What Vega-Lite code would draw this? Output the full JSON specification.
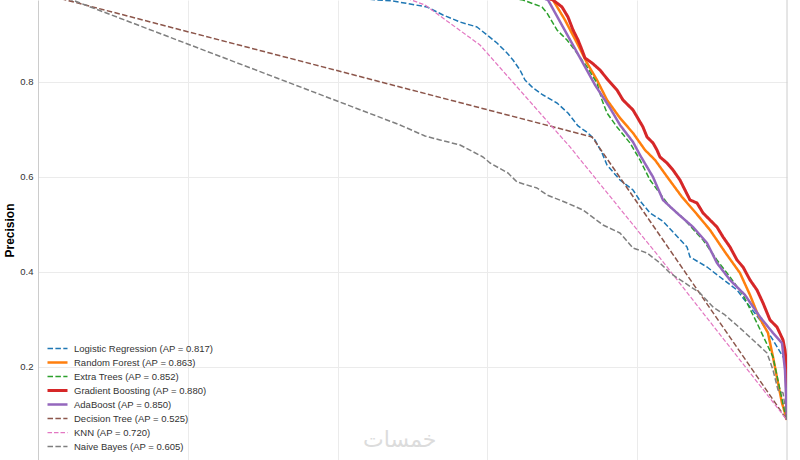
{
  "$schema": "https://vega.github.io/schema/vega-lite/v6.json",
  "autosize": "none",
  "width": 749,
  "height": 460,
  "padding": {"left": 38, "top": 0, "right": 13, "bottom": 0},
  "config": {"font": "Liberation Sans", "view": {"stroke": null}},
  "layer": [
    {
      "data": {"values": [{}]},
      "mark": {"type": "rule", "color": "#cccccc", "strokeWidth": 1},
      "encoding": {"x": {"datum": 1, "type": "quantitative"}}
    },
    {
      "data": {"values": [
        {"model": "Logistic Regression (AP = 0.817)", "recall": 0, "precision": 1.0},
        {"model": "Logistic Regression (AP = 0.817)", "recall": 0.25, "precision": 0.99},
        {"model": "Logistic Regression (AP = 0.817)", "recall": 0.42, "precision": 0.978},
        {"model": "Logistic Regression (AP = 0.817)", "recall": 0.4526, "precision": 0.9726},
        {"model": "Logistic Regression (AP = 0.817)", "recall": 0.474, "precision": 0.9705},
        {"model": "Logistic Regression (AP = 0.817)", "recall": 0.4967, "precision": 0.9642},
        {"model": "Logistic Regression (AP = 0.817)", "recall": 0.5194, "precision": 0.9579},
        {"model": "Logistic Regression (AP = 0.817)", "recall": 0.5407, "precision": 0.9411},
        {"model": "Logistic Regression (AP = 0.817)", "recall": 0.5634, "precision": 0.9263},
        {"model": "Logistic Regression (AP = 0.817)", "recall": 0.5861, "precision": 0.9158},
        {"model": "Logistic Regression (AP = 0.817)", "recall": 0.5995, "precision": 0.8989},
        {"model": "Logistic Regression (AP = 0.817)", "recall": 0.6128, "precision": 0.8821},
        {"model": "Logistic Regression (AP = 0.817)", "recall": 0.6262, "precision": 0.8611},
        {"model": "Logistic Regression (AP = 0.817)", "recall": 0.6342, "precision": 0.8463},
        {"model": "Logistic Regression (AP = 0.817)", "recall": 0.6435, "precision": 0.8253},
        {"model": "Logistic Regression (AP = 0.817)", "recall": 0.6502, "precision": 0.8042},
        {"model": "Logistic Regression (AP = 0.817)", "recall": 0.6609, "precision": 0.7874},
        {"model": "Logistic Regression (AP = 0.817)", "recall": 0.6742, "precision": 0.7726},
        {"model": "Logistic Regression (AP = 0.817)", "recall": 0.6929, "precision": 0.7558},
        {"model": "Logistic Regression (AP = 0.817)", "recall": 0.7076, "precision": 0.7347},
        {"model": "Logistic Regression (AP = 0.817)", "recall": 0.721, "precision": 0.7074},
        {"model": "Logistic Regression (AP = 0.817)", "recall": 0.7343, "precision": 0.6926},
        {"model": "Logistic Regression (AP = 0.817)", "recall": 0.7437, "precision": 0.6779},
        {"model": "Logistic Regression (AP = 0.817)", "recall": 0.753, "precision": 0.6505},
        {"model": "Logistic Regression (AP = 0.817)", "recall": 0.7597, "precision": 0.6253},
        {"model": "Logistic Regression (AP = 0.817)", "recall": 0.777, "precision": 0.5937},
        {"model": "Logistic Regression (AP = 0.817)", "recall": 0.7944, "precision": 0.5726},
        {"model": "Logistic Regression (AP = 0.817)", "recall": 0.8037, "precision": 0.55},
        {"model": "Logistic Regression (AP = 0.817)", "recall": 0.8171, "precision": 0.5242},
        {"model": "Logistic Regression (AP = 0.817)", "recall": 0.8344, "precision": 0.507},
        {"model": "Logistic Regression (AP = 0.817)", "recall": 0.8665, "precision": 0.4526},
        {"model": "Logistic Regression (AP = 0.817)", "recall": 0.8705, "precision": 0.4316},
        {"model": "Logistic Regression (AP = 0.817)", "recall": 0.8932, "precision": 0.4105},
        {"model": "Logistic Regression (AP = 0.817)", "recall": 0.9105, "precision": 0.3895},
        {"model": "Logistic Regression (AP = 0.817)", "recall": 0.9332, "precision": 0.3621},
        {"model": "Logistic Regression (AP = 0.817)", "recall": 0.9506, "precision": 0.3263},
        {"model": "Logistic Regression (AP = 0.817)", "recall": 0.964, "precision": 0.2989},
        {"model": "Logistic Regression (AP = 0.817)", "recall": 0.9813, "precision": 0.2568},
        {"model": "Logistic Regression (AP = 0.817)", "recall": 0.9973, "precision": 0.2147},
        {"model": "Logistic Regression (AP = 0.817)", "recall": 1.0, "precision": 0.0884},

        {"model": "Random Forest (AP = 0.863)", "recall": 0, "precision": 1.0},
        {"model": "Random Forest (AP = 0.863)", "recall": 0.5, "precision": 0.995},
        {"model": "Random Forest (AP = 0.863)", "recall": 0.66, "precision": 0.985},
        {"model": "Random Forest (AP = 0.863)", "recall": 0.6876, "precision": 0.9726},
        {"model": "Random Forest (AP = 0.863)", "recall": 0.7036, "precision": 0.9305},
        {"model": "Random Forest (AP = 0.863)", "recall": 0.7196, "precision": 0.8821},
        {"model": "Random Forest (AP = 0.863)", "recall": 0.733, "precision": 0.84},
        {"model": "Random Forest (AP = 0.863)", "recall": 0.7463, "precision": 0.8042},
        {"model": "Random Forest (AP = 0.863)", "recall": 0.7597, "precision": 0.7621},
        {"model": "Random Forest (AP = 0.863)", "recall": 0.777, "precision": 0.7242},
        {"model": "Random Forest (AP = 0.863)", "recall": 0.7944, "precision": 0.6926},
        {"model": "Random Forest (AP = 0.863)", "recall": 0.8104, "precision": 0.6568},
        {"model": "Random Forest (AP = 0.863)", "recall": 0.8238, "precision": 0.6358},
        {"model": "Random Forest (AP = 0.863)", "recall": 0.8411, "precision": 0.5979},
        {"model": "Random Forest (AP = 0.863)", "recall": 0.8598, "precision": 0.5579},
        {"model": "Random Forest (AP = 0.863)", "recall": 0.8772, "precision": 0.5263},
        {"model": "Random Forest (AP = 0.863)", "recall": 0.8972, "precision": 0.4884},
        {"model": "Random Forest (AP = 0.863)", "recall": 0.9172, "precision": 0.442},
        {"model": "Random Forest (AP = 0.863)", "recall": 0.9372, "precision": 0.3979},
        {"model": "Random Forest (AP = 0.863)", "recall": 0.9506, "precision": 0.3516},
        {"model": "Random Forest (AP = 0.863)", "recall": 0.9613, "precision": 0.3095},
        {"model": "Random Forest (AP = 0.863)", "recall": 0.9746, "precision": 0.2716},
        {"model": "Random Forest (AP = 0.863)", "recall": 0.9813, "precision": 0.2211},
        {"model": "Random Forest (AP = 0.863)", "recall": 0.988, "precision": 0.1663},
        {"model": "Random Forest (AP = 0.863)", "recall": 0.9933, "precision": 0.1242},
        {"model": "Random Forest (AP = 0.863)", "recall": 0.9973, "precision": 0.1032},
        {"model": "Random Forest (AP = 0.863)", "recall": 1.0, "precision": 0.0884},

        {"model": "Extra Trees (AP = 0.852)", "recall": 0, "precision": 1.0},
        {"model": "Extra Trees (AP = 0.852)", "recall": 0.5, "precision": 0.99},
        {"model": "Extra Trees (AP = 0.852)", "recall": 0.62, "precision": 0.978},
        {"model": "Extra Trees (AP = 0.852)", "recall": 0.6475, "precision": 0.9726},
        {"model": "Extra Trees (AP = 0.852)", "recall": 0.6729, "precision": 0.9579},
        {"model": "Extra Trees (AP = 0.852)", "recall": 0.6796, "precision": 0.9453},
        {"model": "Extra Trees (AP = 0.852)", "recall": 0.6929, "precision": 0.9095},
        {"model": "Extra Trees (AP = 0.852)", "recall": 0.7063, "precision": 0.8884},
        {"model": "Extra Trees (AP = 0.852)", "recall": 0.7196, "precision": 0.8611},
        {"model": "Extra Trees (AP = 0.852)", "recall": 0.733, "precision": 0.8316},
        {"model": "Extra Trees (AP = 0.852)", "recall": 0.7463, "precision": 0.7979},
        {"model": "Extra Trees (AP = 0.852)", "recall": 0.753, "precision": 0.7621},
        {"model": "Extra Trees (AP = 0.852)", "recall": 0.7597, "precision": 0.7347},
        {"model": "Extra Trees (AP = 0.852)", "recall": 0.773, "precision": 0.7053},
        {"model": "Extra Trees (AP = 0.852)", "recall": 0.7904, "precision": 0.6716},
        {"model": "Extra Trees (AP = 0.852)", "recall": 0.8037, "precision": 0.6358},
        {"model": "Extra Trees (AP = 0.852)", "recall": 0.8171, "precision": 0.5937},
        {"model": "Extra Trees (AP = 0.852)", "recall": 0.8438, "precision": 0.5368},
        {"model": "Extra Trees (AP = 0.852)", "recall": 0.8571, "precision": 0.52},
        {"model": "Extra Trees (AP = 0.852)", "recall": 0.8879, "precision": 0.4674},
        {"model": "Extra Trees (AP = 0.852)", "recall": 0.9065, "precision": 0.4253},
        {"model": "Extra Trees (AP = 0.852)", "recall": 0.9239, "precision": 0.3895},
        {"model": "Extra Trees (AP = 0.852)", "recall": 0.9413, "precision": 0.3516},
        {"model": "Extra Trees (AP = 0.852)", "recall": 0.9599, "precision": 0.2926},
        {"model": "Extra Trees (AP = 0.852)", "recall": 0.9813, "precision": 0.2211},
        {"model": "Extra Trees (AP = 0.852)", "recall": 0.9907, "precision": 0.1516},
        {"model": "Extra Trees (AP = 0.852)", "recall": 0.9973, "precision": 0.1032},
        {"model": "Extra Trees (AP = 0.852)", "recall": 1.0, "precision": 0.0884},

        {"model": "Gradient Boosting (AP = 0.880)", "recall": 0, "precision": 1.0},
        {"model": "Gradient Boosting (AP = 0.880)", "recall": 0.55, "precision": 0.995},
        {"model": "Gradient Boosting (AP = 0.880)", "recall": 0.67, "precision": 0.985},
        {"model": "Gradient Boosting (AP = 0.880)", "recall": 0.6876, "precision": 0.9726},
        {"model": "Gradient Boosting (AP = 0.880)", "recall": 0.6996, "precision": 0.9579},
        {"model": "Gradient Boosting (AP = 0.880)", "recall": 0.7076, "precision": 0.9368},
        {"model": "Gradient Boosting (AP = 0.880)", "recall": 0.7143, "precision": 0.9095},
        {"model": "Gradient Boosting (AP = 0.880)", "recall": 0.721, "precision": 0.8884},
        {"model": "Gradient Boosting (AP = 0.880)", "recall": 0.7263, "precision": 0.8674},
        {"model": "Gradient Boosting (AP = 0.880)", "recall": 0.7303, "precision": 0.8505},
        {"model": "Gradient Boosting (AP = 0.880)", "recall": 0.7397, "precision": 0.84},
        {"model": "Gradient Boosting (AP = 0.880)", "recall": 0.7503, "precision": 0.8253},
        {"model": "Gradient Boosting (AP = 0.880)", "recall": 0.761, "precision": 0.8042},
        {"model": "Gradient Boosting (AP = 0.880)", "recall": 0.773, "precision": 0.7832},
        {"model": "Gradient Boosting (AP = 0.880)", "recall": 0.781, "precision": 0.7621},
        {"model": "Gradient Boosting (AP = 0.880)", "recall": 0.7944, "precision": 0.7411},
        {"model": "Gradient Boosting (AP = 0.880)", "recall": 0.8077, "precision": 0.7053},
        {"model": "Gradient Boosting (AP = 0.880)", "recall": 0.8131, "precision": 0.6842},
        {"model": "Gradient Boosting (AP = 0.880)", "recall": 0.8211, "precision": 0.6716},
        {"model": "Gradient Boosting (AP = 0.880)", "recall": 0.8264, "precision": 0.6568},
        {"model": "Gradient Boosting (AP = 0.880)", "recall": 0.8304, "precision": 0.6421},
        {"model": "Gradient Boosting (AP = 0.880)", "recall": 0.8398, "precision": 0.6295},
        {"model": "Gradient Boosting (AP = 0.880)", "recall": 0.8478, "precision": 0.6147},
        {"model": "Gradient Boosting (AP = 0.880)", "recall": 0.8571, "precision": 0.5937},
        {"model": "Gradient Boosting (AP = 0.880)", "recall": 0.8638, "precision": 0.5726},
        {"model": "Gradient Boosting (AP = 0.880)", "recall": 0.8705, "precision": 0.5516},
        {"model": "Gradient Boosting (AP = 0.880)", "recall": 0.8798, "precision": 0.5453},
        {"model": "Gradient Boosting (AP = 0.880)", "recall": 0.8879, "precision": 0.5242},
        {"model": "Gradient Boosting (AP = 0.880)", "recall": 0.8972, "precision": 0.5095},
        {"model": "Gradient Boosting (AP = 0.880)", "recall": 0.9065, "precision": 0.4947},
        {"model": "Gradient Boosting (AP = 0.880)", "recall": 0.9146, "precision": 0.4737},
        {"model": "Gradient Boosting (AP = 0.880)", "recall": 0.9239, "precision": 0.4526},
        {"model": "Gradient Boosting (AP = 0.880)", "recall": 0.9332, "precision": 0.4253},
        {"model": "Gradient Boosting (AP = 0.880)", "recall": 0.9413, "precision": 0.4105},
        {"model": "Gradient Boosting (AP = 0.880)", "recall": 0.9506, "precision": 0.3832},
        {"model": "Gradient Boosting (AP = 0.880)", "recall": 0.9599, "precision": 0.3621},
        {"model": "Gradient Boosting (AP = 0.880)", "recall": 0.968, "precision": 0.3347},
        {"model": "Gradient Boosting (AP = 0.880)", "recall": 0.9773, "precision": 0.2989},
        {"model": "Gradient Boosting (AP = 0.880)", "recall": 0.9866, "precision": 0.2842},
        {"model": "Gradient Boosting (AP = 0.880)", "recall": 0.9947, "precision": 0.2568},
        {"model": "Gradient Boosting (AP = 0.880)", "recall": 0.9973, "precision": 0.2358},
        {"model": "Gradient Boosting (AP = 0.880)", "recall": 0.9987, "precision": 0.2147},
        {"model": "Gradient Boosting (AP = 0.880)", "recall": 1.0, "precision": 0.0884},

        {"model": "AdaBoost (AP = 0.850)", "recall": 0, "precision": 1.0},
        {"model": "AdaBoost (AP = 0.850)", "recall": 0.5, "precision": 0.995},
        {"model": "AdaBoost (AP = 0.850)", "recall": 0.66, "precision": 0.985},
        {"model": "AdaBoost (AP = 0.850)", "recall": 0.6809, "precision": 0.9726},
        {"model": "AdaBoost (AP = 0.850)", "recall": 0.7437, "precision": 0.7937},
        {"model": "AdaBoost (AP = 0.850)", "recall": 0.7637, "precision": 0.7453},
        {"model": "AdaBoost (AP = 0.850)", "recall": 0.777, "precision": 0.7095},
        {"model": "AdaBoost (AP = 0.850)", "recall": 0.7944, "precision": 0.6737},
        {"model": "AdaBoost (AP = 0.850)", "recall": 0.8037, "precision": 0.6463},
        {"model": "AdaBoost (AP = 0.850)", "recall": 0.8211, "precision": 0.6},
        {"model": "AdaBoost (AP = 0.850)", "recall": 0.8344, "precision": 0.5516},
        {"model": "AdaBoost (AP = 0.850)", "recall": 0.8531, "precision": 0.5242},
        {"model": "AdaBoost (AP = 0.850)", "recall": 0.8745, "precision": 0.4947},
        {"model": "AdaBoost (AP = 0.850)", "recall": 0.8932, "precision": 0.4611},
        {"model": "AdaBoost (AP = 0.850)", "recall": 0.9065, "precision": 0.4189},
        {"model": "AdaBoost (AP = 0.850)", "recall": 0.9239, "precision": 0.3832},
        {"model": "AdaBoost (AP = 0.850)", "recall": 0.9439, "precision": 0.3516},
        {"model": "AdaBoost (AP = 0.850)", "recall": 0.964, "precision": 0.3053},
        {"model": "AdaBoost (AP = 0.850)", "recall": 0.9813, "precision": 0.2716},
        {"model": "AdaBoost (AP = 0.850)", "recall": 0.9933, "precision": 0.2505},
        {"model": "AdaBoost (AP = 0.850)", "recall": 0.9973, "precision": 0.1937},
        {"model": "AdaBoost (AP = 0.850)", "recall": 1.0, "precision": 0.0884},

        {"model": "Decision Tree (AP = 0.525)", "recall": 0, "precision": 0.988},
        {"model": "Decision Tree (AP = 0.525)", "recall": 0.7397, "precision": 0.6842},
        {"model": "Decision Tree (AP = 0.525)", "recall": 1.0, "precision": 0.0884},

        {"model": "KNN (AP = 0.720)", "recall": 0, "precision": 1.0},
        {"model": "KNN (AP = 0.720)", "recall": 0.46, "precision": 0.995},
        {"model": "KNN (AP = 0.720)", "recall": 0.5167, "precision": 0.9621},
        {"model": "KNN (AP = 0.720)", "recall": 0.5901, "precision": 0.8779},
        {"model": "KNN (AP = 0.720)", "recall": 0.7103, "precision": 0.6632},
        {"model": "KNN (AP = 0.720)", "recall": 0.8304, "precision": 0.4295},
        {"model": "KNN (AP = 0.720)", "recall": 1.0, "precision": 0.0884},

        {"model": "Naive Bayes (AP = 0.605)", "recall": 0, "precision": 1.0},
        {"model": "Naive Bayes (AP = 0.605)", "recall": 0.2563, "precision": 0.846},
        {"model": "Naive Bayes (AP = 0.605)", "recall": 0.4833, "precision": 0.7095},
        {"model": "Naive Bayes (AP = 0.605)", "recall": 0.5167, "precision": 0.6863},
        {"model": "Naive Bayes (AP = 0.605)", "recall": 0.5367, "precision": 0.678},
        {"model": "Naive Bayes (AP = 0.605)", "recall": 0.5634, "precision": 0.6674},
        {"model": "Naive Bayes (AP = 0.605)", "recall": 0.5941, "precision": 0.6421},
        {"model": "Naive Bayes (AP = 0.605)", "recall": 0.6035, "precision": 0.6295},
        {"model": "Naive Bayes (AP = 0.605)", "recall": 0.6275, "precision": 0.6084},
        {"model": "Naive Bayes (AP = 0.605)", "recall": 0.6395, "precision": 0.5895},
        {"model": "Naive Bayes (AP = 0.605)", "recall": 0.6662, "precision": 0.5768},
        {"model": "Naive Bayes (AP = 0.605)", "recall": 0.6796, "precision": 0.5621},
        {"model": "Naive Bayes (AP = 0.605)", "recall": 0.7063, "precision": 0.5453},
        {"model": "Naive Bayes (AP = 0.605)", "recall": 0.7276, "precision": 0.5305},
        {"model": "Naive Bayes (AP = 0.605)", "recall": 0.7543, "precision": 0.4989},
        {"model": "Naive Bayes (AP = 0.605)", "recall": 0.777, "precision": 0.4821},
        {"model": "Naive Bayes (AP = 0.605)", "recall": 0.7944, "precision": 0.4505},
        {"model": "Naive Bayes (AP = 0.605)", "recall": 0.8131, "precision": 0.44},
        {"model": "Naive Bayes (AP = 0.605)", "recall": 0.8304, "precision": 0.4189},
        {"model": "Naive Bayes (AP = 0.605)", "recall": 0.8438, "precision": 0.3979},
        {"model": "Naive Bayes (AP = 0.605)", "recall": 0.8638, "precision": 0.3768},
        {"model": "Naive Bayes (AP = 0.605)", "recall": 0.8838, "precision": 0.3558},
        {"model": "Naive Bayes (AP = 0.605)", "recall": 0.9012, "precision": 0.3263},
        {"model": "Naive Bayes (AP = 0.605)", "recall": 0.9172, "precision": 0.3095},
        {"model": "Naive Bayes (AP = 0.605)", "recall": 0.9372, "precision": 0.2821},
        {"model": "Naive Bayes (AP = 0.605)", "recall": 0.9546, "precision": 0.2568},
        {"model": "Naive Bayes (AP = 0.605)", "recall": 0.9733, "precision": 0.2295},
        {"model": "Naive Bayes (AP = 0.605)", "recall": 0.9813, "precision": 0.1937},
        {"model": "Naive Bayes (AP = 0.605)", "recall": 0.988, "precision": 0.1516},
        {"model": "Naive Bayes (AP = 0.605)", "recall": 0.9947, "precision": 0.1453},
        {"model": "Naive Bayes (AP = 0.605)", "recall": 1.0, "precision": 0.0884}
      ]},
      "mark": {"type": "line", "clip": true, "strokeCap": "butt", "strokeJoin": "round"},
      "encoding": {
        "x": {
          "field": "recall", "type": "quantitative",
          "scale": {"domain": [0, 1], "nice": false, "zero": false},
          "axis": {"title": null, "labels": false, "ticks": false, "domain": false, "grid": true, "values": [0.2, 0.4, 0.6, 0.8], "gridColor": "#ebebeb", "gridWidth": 1}
        },
        "y": {
          "field": "precision", "type": "quantitative",
          "scale": {"domain": [0.0042, 0.9726], "nice": false, "zero": false},
          "axis": {"title": "Precision", "titleFontSize": 12, "titleFontWeight": "bold", "titleColor": "#000000", "titlePadding": 3, "titleFont": "Liberation Sans",
                   "values": [0.2, 0.4, 0.6, 0.8], "format": ".1f", "labelFont": "Liberation Sans", "labelFontSize": 9.5, "labelColor": "#333333", "labelPadding": 5,
                   "ticks": false, "domain": true, "domainColor": "#cccccc", "domainWidth": 1, "grid": true, "gridColor": "#ebebeb", "gridWidth": 1}
        },
        "order": {"value": null},
        "color": {
          "field": "model", "type": "nominal",
          "scale": {
            "domain": ["Logistic Regression (AP = 0.817)", "Random Forest (AP = 0.863)", "Extra Trees (AP = 0.852)", "Gradient Boosting (AP = 0.880)", "AdaBoost (AP = 0.850)", "Decision Tree (AP = 0.525)", "KNN (AP = 0.720)", "Naive Bayes (AP = 0.605)"],
            "range": ["#1f77b4", "#ff7f0e", "#2ca02c", "#d62728", "#9467bd", "#8c564b", "#e377c2", "#7f7f7f"]
          },
          "legend": {"orient": "none", "legendX": 8, "legendY": 342, "title": null, "symbolType": "stroke", "symbolSize": 400, "clipHeight": 13.2, "labelFont": "Liberation Sans", "labelFontSize": 9.5, "labelColor": "#333333", "rowPadding": 0, "labelOffset": 5, "padding": 0}
        },
        "strokeDash": {
          "field": "model", "type": "nominal",
          "scale": {
            "domain": ["Logistic Regression (AP = 0.817)", "Random Forest (AP = 0.863)", "Extra Trees (AP = 0.852)", "Gradient Boosting (AP = 0.880)", "AdaBoost (AP = 0.850)", "Decision Tree (AP = 0.525)", "KNN (AP = 0.720)", "Naive Bayes (AP = 0.605)"],
            "range": [[5.5, 2.4], [1, 0], [5.5, 2.4], [1, 0], [1, 0], [5.5, 2.4], [4.5, 2], [5.5, 2.4]]
          },
          "legend": {"orient": "none", "legendX": 8, "legendY": 342, "title": null, "symbolType": "stroke", "symbolSize": 400, "clipHeight": 13.2, "labelFont": "Liberation Sans", "labelFontSize": 9.5, "labelColor": "#333333", "rowPadding": 0, "labelOffset": 5, "padding": 0}
        },
        "strokeWidth": {
          "field": "model", "type": "nominal",
          "scale": {
            "type": "ordinal",
            "domain": ["Logistic Regression (AP = 0.817)", "Random Forest (AP = 0.863)", "Extra Trees (AP = 0.852)", "Gradient Boosting (AP = 0.880)", "AdaBoost (AP = 0.850)", "Decision Tree (AP = 0.525)", "KNN (AP = 0.720)", "Naive Bayes (AP = 0.605)"],
            "range": [1.5, 2.5, 1.5, 3, 2.5, 1.5, 1.2, 1.5]
          },
          "legend": {"orient": "none", "legendX": 8, "legendY": 342, "title": null, "symbolType": "stroke", "symbolSize": 400, "clipHeight": 13.2, "labelFont": "Liberation Sans", "labelFontSize": 9.5, "labelColor": "#333333", "rowPadding": 0, "labelOffset": 5, "padding": 0}
        }
      }
    },
    {
      "data": {"values": [{}]},
      "mark": {"type": "text", "font": "DejaVu Sans", "fontSize": 22, "color": "#dcdcdc", "align": "center", "baseline": "middle"},
      "encoding": {
        "x": {"datum": 0.483, "type": "quantitative"},
        "y": {"datum": 0.046, "type": "quantitative"},
        "text": {"value": "خمسات"}
      }
    }
  ]
}
